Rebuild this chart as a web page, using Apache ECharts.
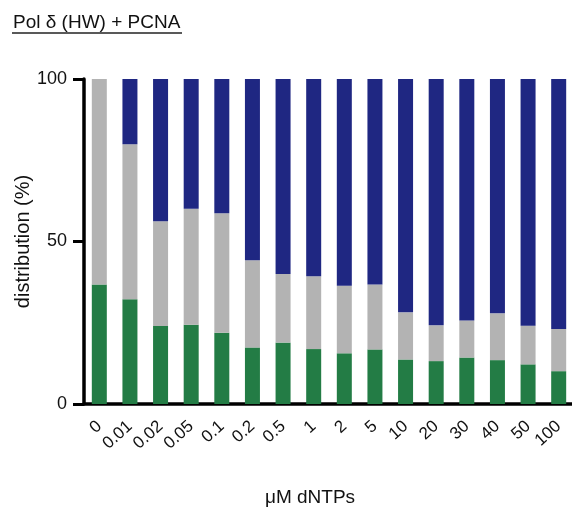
<!DOCTYPE html>
<html>
<head>
<meta charset="utf-8">
<script src="https://cdn.jsdelivr.net/npm/echarts@6/dist/echarts.min.js"></script>
<style>
  html, body { margin: 0; padding: 0; background: #fff; }
  #chart { width: 572px; height: 508px; }
</style>
</head>
<body>
<div id="chart"></div>
<script>
// dNTP concentrations (µM)
const categories = ['0', '0.01', '0.02', '0.05', '0.1', '0.2', '0.5', '1', '2', '5', '10', '20', '30', '40', '50', '100'];

// Product distribution (%) per concentration, stacked bottom to top
const greenValues = [36.8, 32.2, 24.0, 24.4, 21.9, 17.4, 18.9, 16.9, 15.6, 16.8, 13.7, 13.2, 14.3, 13.5, 12.2, 10.1];
const grayValues  = [63.2, 47.7, 32.2, 35.7, 36.8, 26.8, 21.1, 22.4, 20.8, 20.0, 14.5, 11.0, 11.4, 14.4, 11.9, 13.0];
const blueValues  = [0.0, 20.1, 43.8, 39.9, 41.3, 55.8, 60.0, 60.7, 63.6, 63.2, 71.8, 75.8, 74.3, 72.1, 75.9, 76.9];

const yTicks = [0, 50, 100];

const FONT = 'Liberation Sans, Arial, Helvetica, sans-serif';
const AXIS_COLOR = '#000';

const chart = echarts.init(document.getElementById('chart'), null, { renderer: 'canvas' });

function barSeries(name, data, color) {
  return {
    name: name,
    type: 'bar',
    stack: 'dist',
    data: data,
    barWidth: 15,
    itemStyle: { color: color },
    emphasis: { disabled: true },
    silent: true
  };
}

chart.setOption({
  animation: false,
  backgroundColor: '#fff',
  title: {
    text: 'Pol δ (HW) + PCNA',
    left: 8,
    top: 8,
    textStyle: { fontFamily: FONT, fontSize: 19, fontWeight: 'normal', color: '#111' }
  },
  graphic: [{
    type: 'line',
    shape: { x1: 12, y1: 33, x2: 182, y2: 33 },
    style: { stroke: '#222', lineWidth: 1.5 }
  }],
  grid: {
    left: 84, top: 79, width: 490, height: 325,
    containLabel: false,
    outerBoundsMode: 'none'
  },
  xAxis: {
    type: 'category',
    data: categories,
    boundaryGap: true,
    name: 'μM dNTPs',
    nameLocation: 'middle',
    nameGap: 84,
    nameMoveOverlap: false,
    nameTextStyle: { fontFamily: FONT, fontSize: 19, color: '#111', padding: [0, 38, 0, 0] },
    axisLine: { lineStyle: { color: AXIS_COLOR, width: 3.5 } },
    axisTick: { alignWithLabel: true, length: 13, lineStyle: { color: AXIS_COLOR, width: 3 } },
    axisLabel: {
      interval: 0,
      rotate: 42,
      margin: 20,
      fontFamily: FONT,
      fontSize: 17,
      color: '#111'
    },
    splitLine: { show: false }
  },
  yAxis: {
    type: 'value',
    min: yTicks[0],
    max: yTicks[yTicks.length - 1],
    interval: 50,
    name: 'distribution (%)',
    nameLocation: 'middle',
    nameGap: 51,
    nameRotate: 90,
    nameMoveOverlap: false,
    nameTextStyle: { fontFamily: FONT, fontSize: 20, color: '#111' },
    axisLine: { show: true, lineStyle: { color: AXIS_COLOR, width: 3.5 } },
    axisTick: { show: true, length: 11, lineStyle: { color: AXIS_COLOR, width: 3 } },
    axisLabel: { margin: 17, fontFamily: FONT, fontSize: 18, color: '#111' },
    splitLine: { show: false }
  },
  series: [
    barSeries('green', greenValues, '#237c45'),
    barSeries('gray', grayValues, '#b3b3b3'),
    barSeries('blue', blueValues, '#1f2782')
  ]
});
</script>
</body>
</html>
